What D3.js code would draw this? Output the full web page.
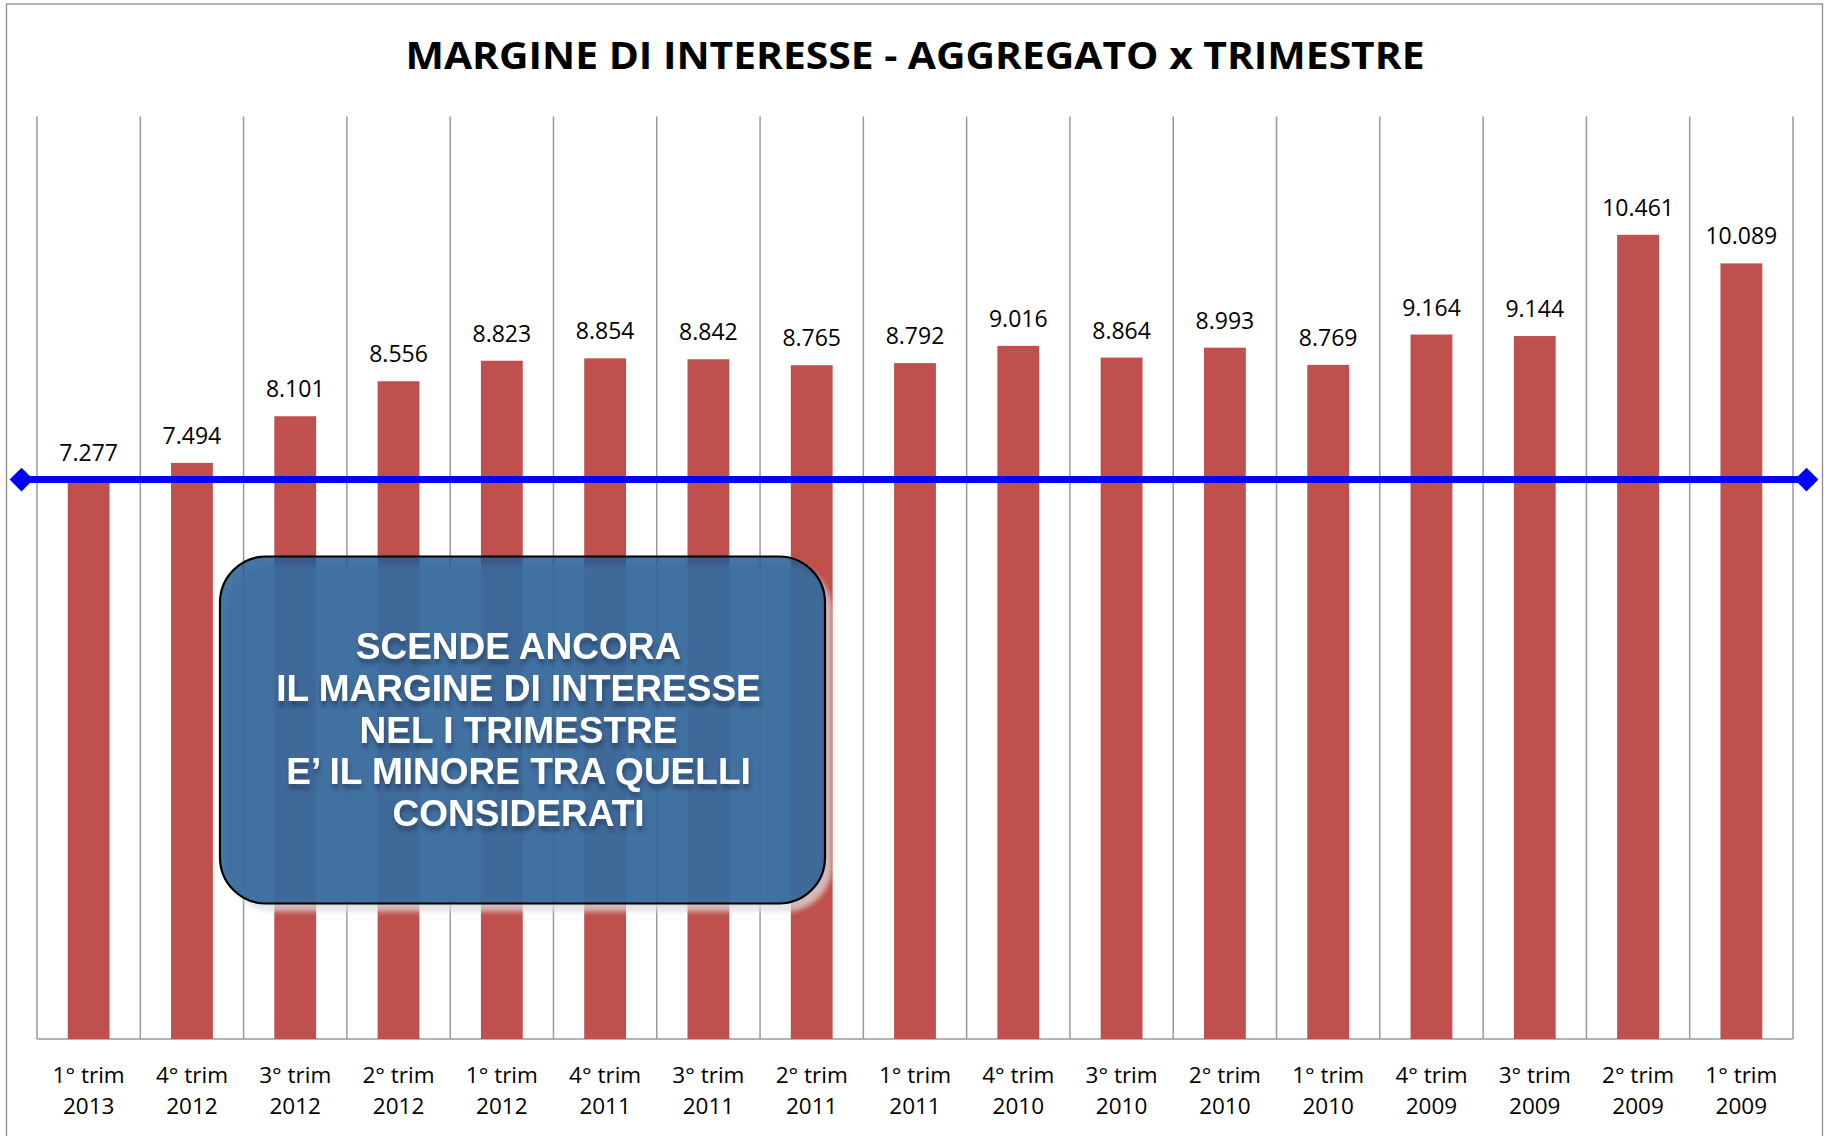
<!DOCTYPE html>
<html>
<head>
<meta charset="utf-8">
<script src="https://cdn.jsdelivr.net/npm/d3@7"></script>
<style>
  html, body { margin: 0; padding: 0; background: #fff; }
  svg { display: block; }
</style>
</head>
<body>
<svg id="chart" width="1826" height="1136"></svg>
<script>
// ---- data ----
const quarters = ["1° trim","4° trim","3° trim","2° trim","1° trim","4° trim","3° trim","2° trim","1° trim","4° trim","3° trim","2° trim","1° trim","4° trim","3° trim","2° trim","1° trim"];
const years    = ["2013","2012","2012","2012","2012","2011","2011","2011","2011","2010","2010","2010","2010","2009","2009","2009","2009"];
const values   = [7.277, 7.494, 8.101, 8.556, 8.823, 8.854, 8.842, 8.765, 8.792, 9.016, 8.864, 8.993, 8.769, 9.164, 9.144, 10.461, 10.089];
const valueLabels = ["7.277","7.494","8.101","8.556","8.823","8.854","8.842","8.765","8.792","9.016","8.864","8.993","8.769","9.164","9.144","10.461","10.089"];
const referenceValue = 7.277;
const titleText = "MARGINE DI INTERESSE - AGGREGATO x TRIMESTRE";
const noteLines = ["SCENDE ANCORA", "IL MARGINE DI INTERESSE", "NEL I TRIMESTRE", "E\u2019 IL MINORE TRA QUELLI", "CONSIDERATI"];
const yDomain = [0, 12];

// ---- layout ----
const svg = d3.select("#chart");
const plot = { left: 37, right: 1793, top: 116.5, bottom: 1039 };
const idx = d3.range(values.length);

const defs = svg.append("defs");
const f1 = defs.append("filter").attr("id", "boxShadow").attr("x", "-10%").attr("y", "-10%").attr("width", "130%").attr("height", "130%");
f1.append("feGaussianBlur").attr("stdDeviation", 2.5);
const f2 = defs.append("filter").attr("id", "txtShadow").attr("x", "-10%").attr("y", "-30%").attr("width", "120%").attr("height", "160%");
f2.append("feDropShadow").attr("dx", 1).attr("dy", 5).attr("stdDeviation", 2)
  .attr("flood-color", "#1a2f4d").attr("flood-opacity", 0.55);

// outer frame
svg.append("rect").attr("x", 6.5).attr("y", 4).attr("width", 1816).attr("height", 1140)
  .attr("fill", "#fff").attr("stroke", "#8c8c8c").attr("stroke-width", 1.3);

const x = d3.scaleBand().domain(idx).range([plot.left, plot.right]).padding(0);
const y = d3.scaleLinear().domain(yDomain).range([plot.bottom, plot.top]);
const step = x.step();
const barW = step * 0.405;

// vertical gridlines at category boundaries
const bounds = idx.map(i => x(i)).concat([plot.right]);
svg.append("g").selectAll("line").data(bounds).join("line")
  .attr("x1", d => d).attr("x2", d => d)
  .attr("y1", plot.top).attr("y2", plot.bottom)
  .attr("stroke", "#9a9a9a").attr("stroke-width", 1.5);

// baseline
svg.append("line").attr("x1", plot.left).attr("x2", plot.right)
  .attr("y1", plot.bottom).attr("y2", plot.bottom)
  .attr("stroke", "#9a9a9a").attr("stroke-width", 1.5);

// bars
svg.append("g").selectAll("rect").data(values).join("rect")
  .attr("x", (d, i) => x(i) + (step - barW) / 2)
  .attr("width", barW)
  .attr("y", d => y(d))
  .attr("height", d => y(0) - y(d))
  .attr("fill", "#C0504D");

// value labels
svg.append("g").selectAll("text").data(values).join("text")
  .attr("x", (d, i) => x(i) + step / 2)
  .attr("y", d => y(d) - 19)
  .attr("text-anchor", "middle")
  .attr("font-family", "'Open Sans', sans-serif")
  .attr("font-size", 23)
  .attr("fill", "#000")
  .text((d, i) => valueLabels[i]);

// category labels
const cat = svg.append("g").selectAll("text").data(idx).join("text")
  .attr("text-anchor", "middle")
  .attr("font-family", "'Open Sans', sans-serif")
  .attr("font-size", 22.5)
  .attr("fill", "#000");
cat.append("tspan").attr("x", i => x(i) + step / 2).attr("y", 1083).text(i => quarters[i]);
cat.append("tspan").attr("x", i => x(i) + step / 2).attr("y", 1114).text(i => years[i]);

// reference line with diamond markers
const refY = y(referenceValue);
const lineX = [21.5, 1806.5];
svg.append("line").attr("x1", lineX[0]).attr("x2", lineX[1])
  .attr("y1", refY).attr("y2", refY)
  .attr("stroke", "#0000FF").attr("stroke-width", 7);
svg.append("g").selectAll("path").data(lineX).join("path")
  .attr("d", d3.symbol().type(d3.symbolDiamond2).size(360))
  .attr("transform", d => `translate(${d},${refY})`)
  .attr("fill", "#0000FF");

// title
svg.append("text")
  .attr("x", 915).attr("y", 68.5)
  .attr("text-anchor", "middle")
  .attr("font-family", "'Open Sans', sans-serif")
  .attr("font-weight", "bold")
  .attr("font-size", 37.5)
  .attr("fill", "#000")
  .attr("textLength", 1019).attr("lengthAdjust", "spacingAndGlyphs")
  .text(titleText);

// annotation box
const box = { x: 220, y: 556.5, w: 605, h: 347, r: 46 };
svg.append("rect")
  .attr("x", box.x + 7).attr("y", box.y + 8).attr("width", box.w).attr("height", box.h)
  .attr("rx", box.r).attr("fill", "#dcdcdc").attr("opacity", 0.75).attr("filter", "url(#boxShadow)");
svg.append("rect")
  .attr("x", box.x).attr("y", box.y).attr("width", box.w).attr("height", box.h)
  .attr("rx", box.r)
  .attr("fill", "rgb(31,89,147)").attr("fill-opacity", 0.83)
  .attr("stroke", "#000").attr("stroke-width", 2.2);

const cx = box.x + box.w / 2 - 4;
const baselines = [659, 700.8, 742.6, 784.4, 826.2];
const noteFont = "'Liberation Sans', Arial, sans-serif";
svg.append("g").attr("filter", "url(#txtShadow)").selectAll("text").data(noteLines).join("text")
  .attr("x", cx).attr("y", (d, i) => baselines[i])
  .attr("text-anchor", "middle").attr("font-family", noteFont).attr("font-weight", "bold")
  .attr("font-size", 37).attr("fill", "#fff")
  .text(d => d);
</script>
</body>
</html>
